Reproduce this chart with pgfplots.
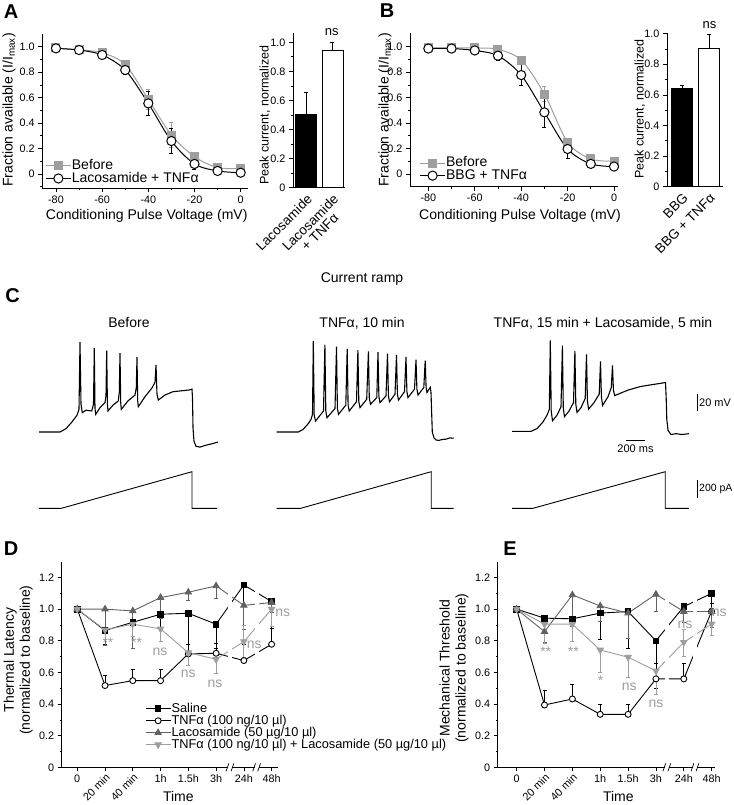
\documentclass[border=0pt]{standalone}
\usepackage{fontspec}
\setmainfont{Liberation Sans}
\usepackage{pgfplots}
\pgfplotsset{compat=1.18}
\definecolor{lg}{gray}{0.62}
\definecolor{dg}{gray}{0.38}
\newcommand{\FS}[1]{\fontsize{#1}{#1}\selectfont}
\pgfplotsset{
 org/.style={scale only axis, anchor=south west, axis x line*=bottom, axis y line*=left,
   axis line style={line width=0.8pt,-}, tick align=outside, major tick length=4pt,
   minor tick length=2.2pt, tick style={black,line width=0.7pt},
   tick label style={font=\FS{10.8}}, /pgf/number format/assume math mode=true, clip=false},
 eb/.style={error bars/.cd, y dir=both, y explicit, error bar style={line width=0.8pt},
   error mark options={rotate=90, mark size=2pt, line width=0.8pt}},
 limg/.style={legend image code/.code={\draw[mark repeat=2,mark phase=2,##1] plot coordinates {(0pt,0pt) (12.5pt,0pt) (25pt,0pt)};}},
 tr/.style={scale only axis, anchor=south west, axis lines=none, clip=false, width=180pt, xmin=0, xmax=1800},
 vt/.style={tr, height=109.2pt, ymin=-80, ymax=50},
 rp/.style={tr, height=36.6pt, ymin=0, ymax=400},
}
\begin{document}
\begin{tikzpicture}
\useasboundingbox (0pt,0pt) rectangle (733pt,-805pt);
% ---------------- Panel A ----------------
\begin{axis}[org, at={(42.1pt,-188pt)}, width=205.5pt, height=154pt,
 xmin=-86, xmax=3, ymin=-0.11, ymax=1.1,
 xtick={-80,-60,-40,-20,0}, xticklabels={-80,-60,-40,-20,0}, minor xtick={-70,-50,-30,-10},
 ytick={0,0.2,0.4,0.6,0.8,1.0}, yticklabels={0,0.2,0.4,0.6,0.8,1.0}, minor ytick={-0.1,0.1,0.3,0.5,0.7,0.9},
 legend style={at={(0.015,0.02)}, anchor=south west, draw=none, fill=none, font=\FS{14}, row sep=0pt, inner sep=0pt,
   nodes={text height=9.5pt, text depth=2pt, inner sep=0.5pt}},
 legend cell align=left, limg]
\addplot[lg, line width=1pt, smooth, mark=square*, mark size=4pt, eb] coordinates {
 (-80,0.99) (-70,0.975) (-60,0.953) (-50,0.86) += (0,0.025) -= (0,0) (-40,0.586) +- (0,0.08)
 (-30,0.306) +- (0,0.1) (-20,0.136) += (0,0.035) -= (0,0) (-10,0.05) (0,0.045)};
\addlegendentry{Before}
\addplot[black, line width=1pt, smooth, mark=*, mark size=4.6pt, mark options={fill=white}, eb] coordinates {
 (-80,0.987) (-70,0.974) (-60,0.935) (-50,0.817) +- (0,0.035) (-40,0.555) +- (0,0.093)
 (-30,0.259) +- (0,0.1) (-20,0.079) +- (0,0.042) (-10,0.024) (0,0.01)};
\addlegendentry{Lacosamide + TNFα}
\end{axis}
\begin{axis}[org, at={(293pt,-187.7pt)}, width=52pt, height=154.7pt,
 xmin=-0.5, xmax=1.48, ymin=0, ymax=1.064,
 xtick={0,1}, xticklabels={Lacosamide,{Lacosamide\\+ TNFα}}, xtick style={draw=none},
 x tick label style={rotate=45, anchor=north east, align=center, font=\FS{13.5}, inner sep=1pt},
 ytick={0,0.2,0.4,0.6,0.8,1.0}, yticklabels={0,0.2,0.4,0.6,0.8,1.0}, minor ytick={0.1,0.3,0.5,0.7,0.9}]
\addplot[ybar, bar shift=0pt, bar width=21pt, fill=black, draw=black, line width=0.8pt, eb] coordinates {(0,0.505) += (0,0.15) -= (0,0)};
\addplot[ybar, bar shift=0pt, bar width=21pt, fill=white, draw=black, line width=0.8pt, eb] coordinates {(1,0.943) += (0,0.057) -= (0,0)};
\end{axis}
% ---------------- Panel B ----------------
\begin{axis}[org, at={(410pt,-186.7pt)}, width=208.3pt, height=153.4pt,
 xmin=-87.9, xmax=1.85, ymin=-0.1, ymax=1.105,
 xtick={-80,-60,-40,-20,0}, xticklabels={-80,-60,-40,-20,0}, minor xtick={-70,-50,-30,-10},
 ytick={0,0.2,0.4,0.6,0.8,1.0}, yticklabels={0,0.2,0.4,0.6,0.8,1.0}, minor ytick={0.1,0.3,0.5,0.7,0.9},
 legend style={at={(0.045,0.03)}, anchor=south west, draw=none, fill=none, font=\FS{14}, row sep=0pt, inner sep=0pt,
   nodes={text height=9.5pt, text depth=2pt, inner sep=0.5pt}},
 legend cell align=left, limg]
\addplot[lg, line width=1pt, smooth, mark=square*, mark size=4pt, eb] coordinates {
 (-80,0.99) (-70,0.99) (-60,0.99) (-50,0.979) (-40,0.895) +- (0,0.02) (-30,0.628) +- (0,0.058)
 (-20,0.249) +- (0,0.03) (-10,0.118) (0,0.10)};
\addlegendentry{Before}
\addplot[black, line width=1pt, smooth, mark=*, mark size=4.6pt, mark options={fill=white}, eb] coordinates {
 (-80,0.985) (-70,0.985) (-60,0.97) (-50,0.929) +- (0,0.04) (-40,0.777) +- (0,0.085)
 (-30,0.484) +- (0,0.12) (-20,0.196) +- (0,0.075) (-10,0.079) (0,0.058)};
\addlegendentry{BBG + TNFα}
\end{axis}
\begin{axis}[org, at={(667pt,-186.7pt)}, width=56.3pt, height=154pt,
 xmin=-0.56, xmax=1.53, ymin=0, ymax=1.006,
 xtick={0,1}, xticklabels={BBG,BBG + TNFα}, xtick style={draw=none},
 x tick label style={rotate=45, anchor=north east, font=\FS{13.5}, inner sep=1pt},
 ytick={0,0.2,0.4,0.6,0.8,1.0}, yticklabels={0,0.2,0.4,0.6,0.8,1.0}, minor ytick={0.1,0.3,0.5,0.7,0.9}]
\addplot[ybar, bar shift=0pt, bar width=21pt, fill=black, draw=black, line width=0.8pt, eb] coordinates {(0,0.639) += (0,0.02) -= (0,0)};
\addplot[ybar, bar shift=0pt, bar width=21pt, fill=white, draw=black, line width=0.8pt, eb] coordinates {(1,0.905) += (0,0.09) -= (0,0)};
\end{axis}
% labels A, B
\node[font=\FS{20}\bfseries] at (11pt,-12pt) {A};
\node[font=\FS{20}\bfseries] at (387pt,-11pt) {B};
\node[rotate=90, font=\FS{14}] at (9pt,-110pt) {Fraction available (I/I\textsubscript{max})};
\node[font=\FS{14}] at (146.7pt,-216pt) {Conditioning Pulse Voltage (mV)};
\node[rotate=90, font=\FS{12.5}] at (265pt,-115pt) {Peak current, normalized};
\node[font=\FS{13}] at (331.7pt,-32pt) {ns};
\node[rotate=90, font=\FS{14}] at (385pt,-110pt) {Fraction available (I/I\textsubscript{max})};
\node[font=\FS{14}] at (520pt,-216pt) {Conditioning Pulse Voltage (mV)};
\node[rotate=90, font=\FS{12.5}] at (640pt,-109pt) {Peak current, normalized};
\node[font=\FS{13}] at (709.5pt,-25pt) {ns};
% ---------------- Panel C ----------------
\node[font=\FS{20}\bfseries] at (12.6pt,-296pt) {C};
\node[font=\FS{14}] at (362pt,-279pt) {Current ramp};
\node[font=\FS{14}] at (129pt,-323pt) {Before};
\node[font=\FS{14}] at (362pt,-323pt) {TNFα, 10 min};
\node[font=\FS{14}] at (603pt,-323pt) {TNFα, 15 min + Lacosamide, 5 min};
\begin{axis}[vt, at={(39pt,-448.8pt)}]
\addplot[black, line width=1.1pt] coordinates {
(0,-60) (210,-60) (270,-56) (330,-48) (380,-40) (400,-33) (410,47) (420,-27) (433,-37) (470,-34)
(527,-35) (545,-27) (553,40) (560,-32) (567,-39) (610,-31) (660,-25) (670,-17) (677,37) (684,-27)
(690,-35) (740,-28) (793,-23) (803,-13) (810,34) (817,-25) (823,-33) (890,-23) (960,-16) (973,-7)
(980,29) (987,-23) (993,-30) (1060,-18) (1127,-8) (1160,-1) (1170,20) (1180,-15) (1193,-22)
(1260,-16) (1340,-12) (1420,-11) (1500,-10) (1530,-9) (1535,-20) (1540,-55) (1550,-71) (1570,-77)
(1610,-78) (1660,-76) (1730,-74) (1790,-72)};
\end{axis}
\begin{axis}[vt, at={(276.7pt,-448.8pt)}]
\addplot[black, line width=1.1pt] coordinates {
(0,-60) (216,-60) (263,-57) (316,-50) (343,-45) (358,-39) (366,48.3) (375,-40) (388,-47)
(468,-35) (482,44) (491,-35) (503,-43) (583,-32) (598,41.5) (607,-32) (618,-39)
(691,-28) (705,39) (714,-28) (725,-35) (798,-24) (812,37.5) (821,-24) (833,-31)
(900,-21) (917,36) (926,-20) (938,-27) (1001,-19) (1013,35) (1022,-18) (1033,-25)
(1093,-17) (1108,33.3) (1117,-17) (1128,-24) (1183,-15) (1198,31.7) (1207,-15) (1218,-22)
(1278,-12) (1293,29.3) (1302,-12) (1313,-19) (1378,-9) (1393,26) (1402,-9) (1413,-16)
(1471,-7) (1485,25) (1494,-7) (1503,-13) (1523,-9) (1536,-6.7) (1543,-13) (1549,-35) (1556,-60)
(1573,-67) (1593,-69.5) (1620,-70) (1653,-69) (1693,-68.5) (1733,-67) (1770,-67.5)};
\end{axis}
\begin{axis}[vt, at={(512.2pt,-448.8pt)}]
\addplot[black, line width=1.1pt] coordinates {
(0,-59.3) (186,-59.3) (248,-56) (308,-48) (348,-40) (371,-33) (381,49) (390,-35) (403,-46.7)
(448,-40) (488,-30) (502,42.7) (511,-32) (523,-41.7) (568,-35) (613,-25) (627,36.7) (636,-27)
(648,-36.7) (688,-31) (730,-20) (743,32.3) (752,-23) (764,-32.7) (818,-25) (870,-15) (883,24)
(892,-18) (904,-28.3) (958,-18) (991,-7) (1003,19.3) (1012,-10) (1025,-16.7) (1078,-14)
(1161,-10) (1278,-6) (1378,-4) (1487,-2) (1533,-1) (1540,-20) (1546,-45) (1558,-58) (1588,-63)
(1638,-62) (1698,-63) (1766,-62)};
\end{axis}
\begin{axis}[rp, at={(39pt,-508.3pt)}]
\addplot[black, line width=0.9pt] coordinates {(0,0) (224,0) (1530,400) (1530,0) (1780,0)};
\end{axis}
\begin{axis}[rp, at={(276.7pt,-508.3pt)}]
\addplot[black, line width=0.9pt] coordinates {(0,0) (240,0) (1545,400) (1545,0) (1770,0)};
\end{axis}
\begin{axis}[rp, at={(512.2pt,-508.3pt)}]
\addplot[black, line width=0.9pt] coordinates {(0,0) (208,0) (1530,400) (1530,0) (1766,0)};
\end{axis}
\draw[line width=0.9pt] (697pt,-394pt) -- (697pt,-411pt);
\node[font=\FS{11}, anchor=west, inner sep=1pt] at (698pt,-402.5pt) {20 mV};
\draw[line width=0.9pt] (626pt,-440pt) -- (645pt,-440pt);
\node[font=\FS{11}, inner sep=1pt] at (635.5pt,-448.5pt) {200 ms};
\draw[line width=0.9pt] (697pt,-480pt) -- (697pt,-498pt);
\node[font=\FS{10.5}, anchor=west, inner sep=1pt] at (698pt,-489pt) {200 pA};
% ---------------- Panel D ----------------
\begin{axis}[org, at={(61.7pt,-767.3pt)}, width=216.3pt, height=205.6pt,
 xmin=-0.56, xmax=7.23, ymin=0, ymax=1.3,
 xtick={0,3,4,5,6,7}, xticklabels={0,1h,1.5h,3h,24h,48h},
 extra x ticks={1,2}, extra x tick labels={20 min,40 min},
 extra x tick style={tick label style={rotate=45, anchor=north east, inner sep=1pt}},
 ytick={0,0.2,0.4,0.6,0.8,1.0,1.2}, yticklabels={0,0.2,0.4,0.6,0.8,1.0,1.2}, minor ytick={0.1,0.3,0.5,0.7,0.9,1.1},
 legend style={at={(0.385,0.315)}, anchor=north west, draw=none, fill=none, font=\FS{12.8}, row sep=0pt, inner sep=0pt,
   nodes={text height=8.8pt, text depth=2.2pt, inner sep=0.5pt}},
 legend cell align=left, limg]
\addplot[black, line width=0.9pt, mark=square*, mark size=2.8pt, eb] coordinates {
 (0,1.0) (1,0.865) -= (0,0.09) += (0,0) (2,0.917) -= (0,0.09) += (0,0) (3,0.968) -= (0,0.17) += (0,0)
 (4,0.974) -= (0,0.33) += (0,0) (5,0.905) -= (0,0.15) += (0,0) (6,1.153) -= (0,0.13) += (0,0) (7,1.048) -= (0,0.17) += (0,0)};
\addlegendentry{Saline}
\addplot[black, line width=0.9pt, mark=*, mark size=3pt, mark options={fill=white}, eb] coordinates {
 (0,1.0) (1,0.517) += (0,0.065) -= (0,0) (2,0.548) += (0,0.07) -= (0,0) (3,0.548) += (0,0.07) -= (0,0)
 (4,0.717) += (0,0.06) -= (0,0) (5,0.721) += (0,0.06) -= (0,0) (6,0.675) += (0,0.1) -= (0,0) (7,0.778) += (0,0.1) -= (0,0)};
\addlegendentry{TNFα (100 ng/10 µl)}
\addplot[dg, line width=0.9pt, mark=triangle*, mark size=3.6pt, eb] coordinates {
 (0,1.0) (1,1.0) -= (0,0.23) += (0,0) (2,0.989) -= (0,0.24) += (0,0) (3,1.073) -= (0,0.13) += (0,0)
 (4,1.107) -= (0,0.05) += (0,0) (5,1.147) -= (0,0.08) += (0,0) (6,1.024) -= (0,0.15) += (0,0) (7,1.042) -= (0,0.06) += (0,0)};
\addlegendentry{Lacosamide (50 µg/10 µl)}
\addplot[lg, line width=0.9pt, mark=triangle*, mark size=3.6pt, mark options={rotate=180}, eb] coordinates {
 (0,1.0) (1,0.869) -= (0,0.06) += (0,0) (2,0.905) -= (0,0.08) += (0,0) (3,0.875) -= (0,0.08) += (0,0)
 (4,0.725) -= (0,0.08) += (0,0) (5,0.683) -= (0,0.09) += (0,0) (6,0.795) += (0,0.1) -= (0,0.1) (7,1.0) -= (0,0.11) += (0,0)};
\addlegendentry{TNFα (100 ng/10 µl) + Lacosamide (50 µg/10 µl)}
\fill[white] (axis cs:5.43,0.55) rectangle (axis cs:5.57,1.25);
\fill[white] (axis cs:6.39,0.55) rectangle (axis cs:6.53,1.25);
\fill[white] (axis cs:5.43,-0.01) rectangle (axis cs:5.57,0.01);
\fill[white] (axis cs:6.39,-0.01) rectangle (axis cs:6.53,0.01);
\draw[line width=0.7pt] (axis cs:5.36,-0.025) -- (axis cs:5.46,0.025) (axis cs:5.54,-0.025) -- (axis cs:5.64,0.025);
\draw[line width=0.7pt] (axis cs:6.32,-0.025) -- (axis cs:6.42,0.025) (axis cs:6.50,-0.025) -- (axis cs:6.60,0.025);
\end{axis}
\node[font=\FS{20}\bfseries] at (11pt,-549pt) {D};
\node[rotate=90, font=\FS{14}, align=center] at (18.3pt,-660pt) {Thermal Latency\\[2pt](normalized to baseline)};
\node[font=\FS{14}] at (178.3pt,-796pt) {Time};
\begin{scope}[lg, font=\FS{14}]
\node at (108pt,-643pt) {**};
\node at (136.5pt,-643pt) {**};
\node at (160pt,-651.7pt) {ns};
\node at (188.3pt,-674pt) {ns};
\node at (215pt,-683.3pt) {ns};
\node at (254.3pt,-644.3pt) {ns};
\node at (282.7pt,-612.7pt) {ns};
\end{scope}
% ---------------- Panel E ----------------
\begin{axis}[org, at={(497.7pt,-767.3pt)}, width=217.3pt, height=205.6pt,
 xmin=-0.68, xmax=7.12, ymin=0, ymax=1.3,
 xtick={0,3,4,5,6,7}, xticklabels={0,1h,1.5h,3h,24h,48h},
 extra x ticks={1,2}, extra x tick labels={20 min,40 min},
 extra x tick style={tick label style={rotate=45, anchor=north east, inner sep=1pt}},
 ytick={0,0.2,0.4,0.6,0.8,1.0,1.2}, yticklabels={0,0.2,0.4,0.6,0.8,1.0,1.2}, minor ytick={0.1,0.3,0.5,0.7,0.9,1.1}]
\addplot[black, line width=0.9pt, mark=square*, mark size=2.8pt, eb] coordinates {
 (0,1.0) (1,0.943) (2,0.939) (3,0.975) -= (0,0.165) += (0,0) (4,0.985) -= (0,0.23) += (0,0)
 (5,0.80) -= (0,0.3) += (0,0) (6,1.016) -= (0,0.1) += (0,0) (7,1.10) -= (0,0.1) += (0,0)};
\addplot[black, line width=0.9pt, mark=*, mark size=3pt, mark options={fill=white}, eb] coordinates {
 (0,1.0) (1,0.394) += (0,0.09) -= (0,0) (2,0.432) += (0,0.09) -= (0,0) (3,0.335) += (0,0.065) -= (0,0)
 (4,0.335) += (0,0.065) -= (0,0) (5,0.559) += (0,0.1) -= (0,0) (6,0.559) += (0,0.1) -= (0,0) (7,0.987) += (0,0.05) -= (0,0)};
\addplot[dg, line width=0.9pt, mark=triangle*, mark size=3.6pt, eb] coordinates {
 (0,1.0) (1,0.858) -= (0,0.07) += (0,0) (2,1.09) -= (0,0.2) += (0,0) (3,1.02) -= (0,0.1) += (0,0)
 (4,0.975) -= (0,0.16) += (0,0) (5,1.094) -= (0,0.11) += (0,0) (6,0.985) -= (0,0.07) += (0,0) (7,0.985) -= (0,0.1) += (0,0)};
\addplot[lg, line width=0.9pt, mark=triangle*, mark size=3.6pt, mark options={rotate=180}, eb] coordinates {
 (0,1.0) (1,0.905) -= (0,0.12) += (0,0) (2,0.905) -= (0,0.11) += (0,0) (3,0.742) -= (0,0.14) += (0,0)
 (4,0.696) -= (0,0.125) += (0,0) (5,0.61) -= (0,0.15) += (0,0) (6,0.79) += (0,0.08) -= (0,0.09) (7,0.907) -= (0,0.07) += (0,0)};
\fill[white] (axis cs:5.32,0.5) rectangle (axis cs:5.46,1.2);
\fill[white] (axis cs:6.33,0.5) rectangle (axis cs:6.47,1.2);
\fill[white] (axis cs:5.32,-0.01) rectangle (axis cs:5.46,0.01);
\fill[white] (axis cs:6.33,-0.01) rectangle (axis cs:6.47,0.01);
\draw[line width=0.7pt] (axis cs:5.25,-0.025) -- (axis cs:5.35,0.025) (axis cs:5.43,-0.025) -- (axis cs:5.53,0.025);
\draw[line width=0.7pt] (axis cs:6.26,-0.025) -- (axis cs:6.36,0.025) (axis cs:6.44,-0.025) -- (axis cs:6.54,0.025);
\end{axis}
\node[font=\FS{20}\bfseries] at (510pt,-549pt) {E};
\node[rotate=90, font=\FS{14}, align=center] at (454pt,-668pt) {Mechanical Threshold\\[2pt](normalized to baseline)};
\node[font=\FS{14}] at (618.3pt,-796pt) {Time};
\begin{scope}[lg, font=\FS{14}]
\node at (545.7pt,-652pt) {**};
\node at (573.3pt,-652pt) {**};
\node at (600.7pt,-681pt) {*};
\node at (629.3pt,-686.7pt) {ns};
\node at (656pt,-703.3pt) {ns};
\node at (685pt,-624.3pt) {ns};
\node at (719.3pt,-612.7pt) {ns};
\end{scope}
\end{tikzpicture}
\end{document}
